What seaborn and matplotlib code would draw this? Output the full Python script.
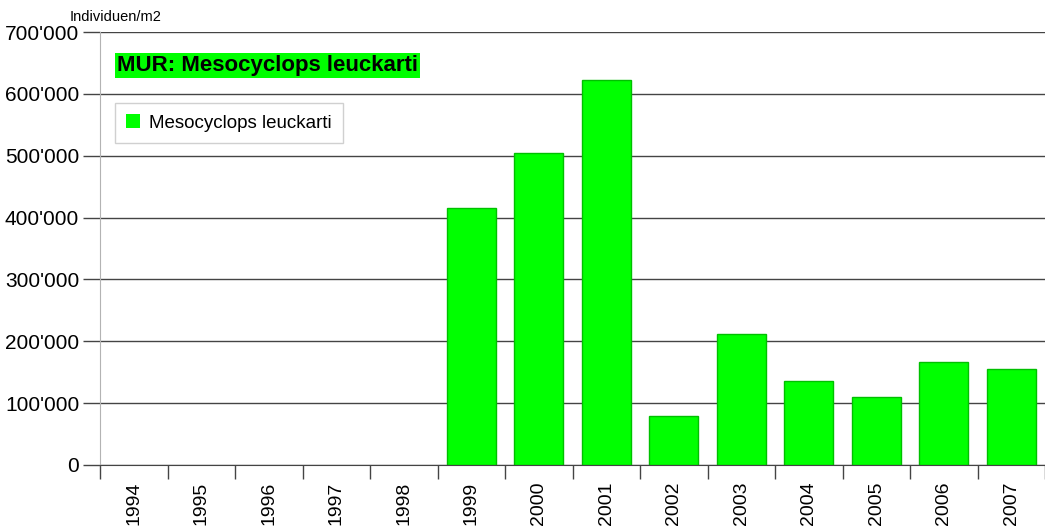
import numpy as np
import pandas as pd
import matplotlib
matplotlib.use('Agg')
import matplotlib.pyplot as plt
import seaborn as sns
from matplotlib.patches import Patch
from matplotlib.ticker import FuncFormatter, FixedLocator

# Daten (Individuen/m2)
years = ['1994', '1995', '1996', '1997', '1998', '1999', '2000',
         '2001', '2002', '2003', '2004', '2005', '2006', '2007']
values = [np.nan, np.nan, np.nan, np.nan, np.nan, 415000, 504000,
          623000, 79000, 211000, 136000, 110000, 167000, 156000]
y_ticks = [0, 100000, 200000, 300000, 400000, 500000, 600000, 700000]

series_name = 'Mesocyclops leuckarti'
title = 'MUR: Mesocyclops leuckarti'
unit = 'Individuen/m2'
green = '#00ff00'

sns.set_style('white')
plt.rcParams['font.family'] = ['Liberation Sans', 'DejaVu Sans']
plt.rcParams['text.color'] = 'black'
plt.rcParams['xtick.labelcolor'] = 'black'
plt.rcParams['ytick.labelcolor'] = 'black'

df = pd.DataFrame({'Jahr': years, 'Wert': values})

fig = plt.figure(figsize=(10.45, 5.28), dpi=100)
ax = fig.add_axes([100 / 1045, 1 - 465 / 528, 945 / 1045, 433 / 528])

sns.barplot(data=df, x='Jahr', y='Wert', order=years, color=green,
            saturation=1, width=0.72, edgecolor='#00c000', linewidth=1,
            ax=ax, zorder=3)

ax.set_xlim(-0.5, 13.5)
ax.set_ylim(0, 700000)
ax.set_xlabel('')
ax.set_ylabel('')

# Gitterlinien
ax.yaxis.set_major_locator(FixedLocator(y_ticks))
ax.yaxis.set_major_formatter(FuncFormatter(lambda v, p: f'{int(v):,}'.replace(',', "'")))
ax.grid(axis='y', color='#444444', linewidth=1, zorder=0)
ax.tick_params(axis='y', length=12, width=1, color='#444444', labelsize=15,
               pad=3, left=True)

# x-Ticks an Kategoriengrenzen, Labels in der Mitte
ax.set_xticks(np.arange(-0.5, 14, 1))
ax.set_xticklabels([])
ax.set_xticks(np.arange(len(years)), minor=True)
ax.set_xticklabels(years, minor=True, rotation=90, fontsize=14)
ax.tick_params(axis='x', which='major', length=10, width=1, color='#444444',
               bottom=True)
ax.tick_params(axis='x', which='minor', length=0, pad=12)
for lbl in ax.get_xticklabels(minor=True):
    lbl.set_verticalalignment('top')

for s in ['top', 'right']:
    ax.spines[s].set_visible(False)
ax.spines['left'].set_color('#b3b3b3')
ax.spines['bottom'].set_color('#444444')
ax.spines['bottom'].set_zorder(4)

# Titel mit gruenem Hintergrund
fig.text(117 / 1045, 1 - 65 / 528, title, fontsize=16, fontweight='bold',
         va='center', ha='left', color='black',
         bbox=dict(facecolor=green, edgecolor='none', pad=1.5))

fig.text(70 / 1045, 1 - 17 / 528, unit, fontsize=10.5, va='center', ha='left')

leg = ax.legend(handles=[Patch(facecolor=green, edgecolor='none', label=series_name)],
                loc='upper left', bbox_to_anchor=(115 / 1045, 1 - 103 / 528),
                bbox_transform=fig.transFigure, fancybox=False, framealpha=1,
                edgecolor='#d0d0d0', fontsize=13.5, handlelength=0.75,
                handleheight=0.75, handletextpad=0.45, borderpad=0.6,
                borderaxespad=0)
leg.get_frame().set_linewidth(1)

fig.savefig('out.png', dpi=100, facecolor='white')
